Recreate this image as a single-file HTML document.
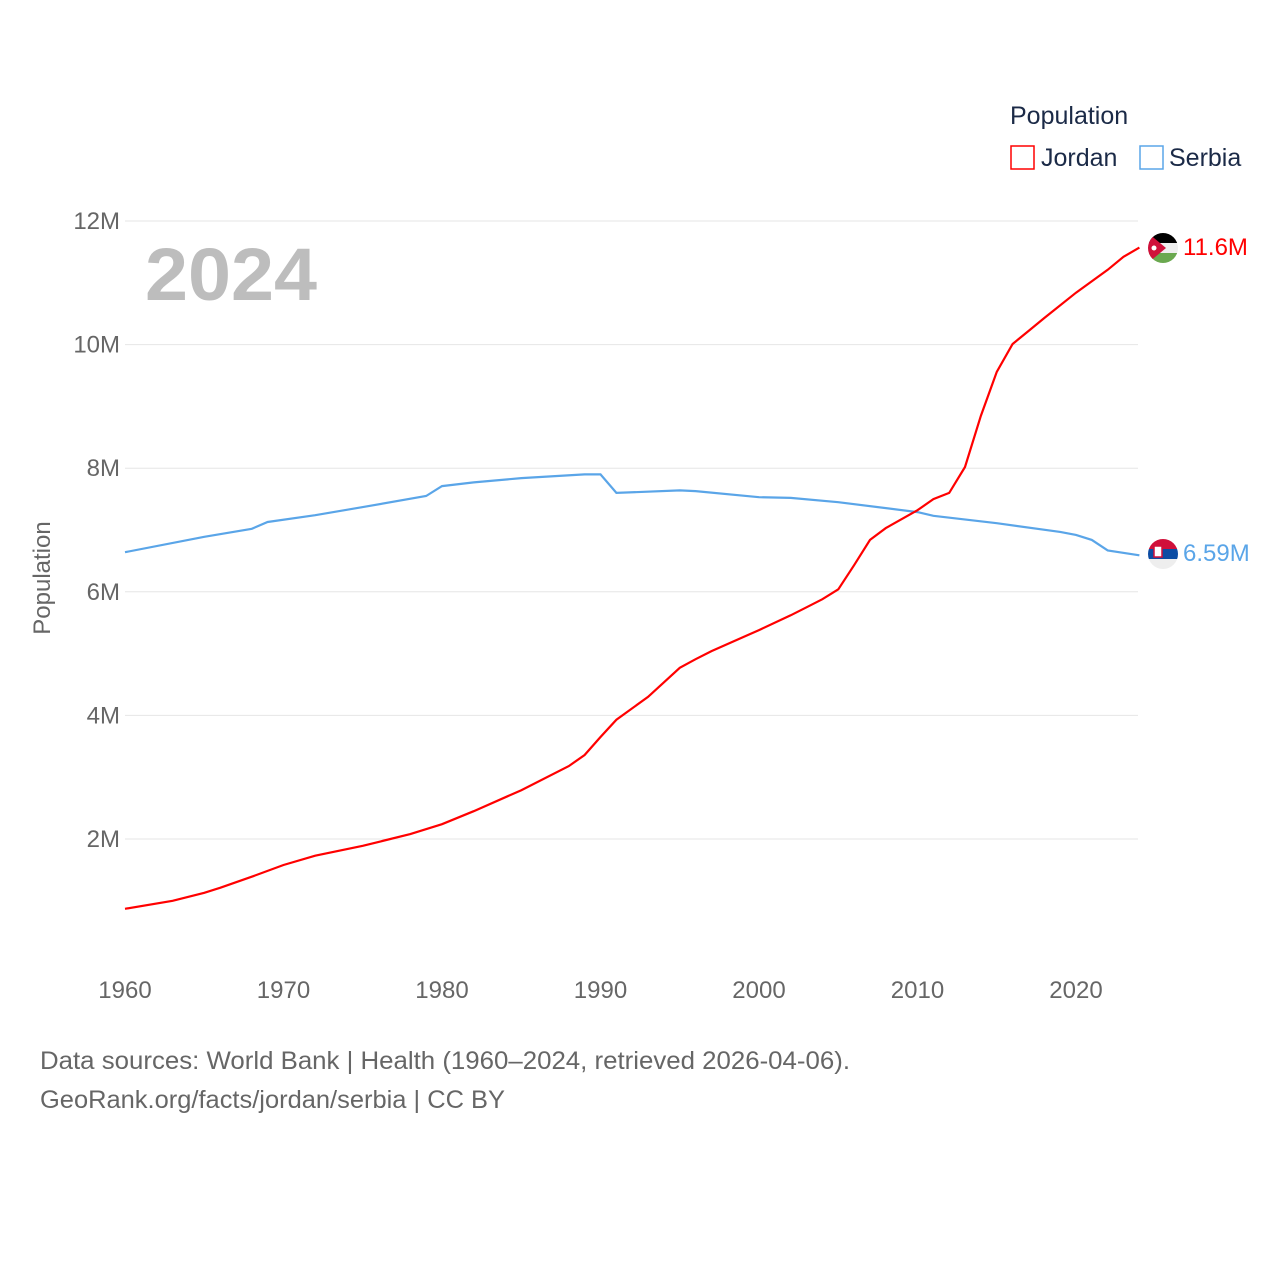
<!DOCTYPE html>
<html><head><meta charset="utf-8"><style>
body{margin:0;background:#fff;width:1280px;height:1280px;overflow:hidden;font-family:"Liberation Sans",sans-serif}
</style></head><body>
<svg id="chart" width="1280" height="1280" xmlns="http://www.w3.org/2000/svg" font-family="Liberation Sans, sans-serif">
<defs>
<clipPath id="cj"><circle cx="1163" cy="248" r="15"/></clipPath>
<clipPath id="cs"><circle cx="1163" cy="554" r="15"/></clipPath>
</defs>
<g id="grid"></g>
<g id="yticks"></g>
<g id="xticks"></g>
<text transform="translate(50,578) rotate(-90)" text-anchor="middle" font-size="24" fill="#666">Population</text>
<text x="145" y="300" font-size="74" font-weight="bold" fill="#bdbdbd" textLength="172" lengthAdjust="spacingAndGlyphs">2024</text>
<g>
<text x="1010" y="124" font-size="25" fill="#1b2a47">Population</text>
<rect x="1011" y="146" width="23" height="23" fill="none" stroke="#ff0000" stroke-width="1.5"/>
<text x="1041" y="166" font-size="25" fill="#1b2a47">Jordan</text>
<rect x="1140" y="146" width="23" height="23" fill="none" stroke="#5aa5e8" stroke-width="1.5"/>
<text x="1169" y="166" font-size="25" fill="#1b2a47">Serbia</text>
</g>
<path id="lineS" fill="none" stroke="#5aa5e8" stroke-width="2.2"/>
<path id="lineJ" fill="none" stroke="#ff0000" stroke-width="2.2"/>
<g clip-path="url(#cj)">
<rect x="1148" y="233" width="30" height="10" fill="#000"/>
<rect x="1148" y="243" width="30" height="10" fill="#eee"/>
<rect x="1148" y="253" width="30" height="10" fill="#6aa84f"/>
<polygon points="1148,233 1166,248 1148,263" fill="#d0103a"/>
<circle cx="1154" cy="248" r="2.5" fill="#fff"/>
</g>
<g clip-path="url(#cs)">
<rect x="1148" y="539" width="30" height="10" fill="#d0103a"/>
<rect x="1148" y="549" width="30" height="10" fill="#0c4ca3"/>
<rect x="1148" y="559" width="30" height="10" fill="#eee"/>
<rect x="1154" y="546" width="8" height="11" fill="#fff" stroke="#d0103a" stroke-width="1.5"/>
</g>
<text x="1183" y="255" font-size="24" fill="#ff0000">11.6M</text>
<text x="1183" y="561" font-size="24" fill="#5aa5e8">6.59M</text>
<text x="40" y="1069" font-size="25" fill="#666" textLength="810" lengthAdjust="spacingAndGlyphs">Data sources: World Bank | Health (1960–2024, retrieved 2026-04-06).</text>
<text x="40" y="1108" font-size="25" fill="#666" textLength="465" lengthAdjust="spacingAndGlyphs">GeoRank.org/facts/jordan/serbia | CC BY</text>
</svg>
<script>
const yTicks=[2,4,6,8,10,12];
const xTicks=[1960,1970,1980,1990,2000,2010,2020];
const jordanYears=[1960,1963,1965,1966,1968,1970,1972,1975,1978,1980,1982,1985,1988,1989,1990,1991,1993,1995,1996,1997,2000,2002,2003,2004,2005,2006,2007,2008,2010,2011,2012,2013,2014,2015,2016,2017,2018,2020,2022,2023,2024];
const jordanValues=[0.87,1.0,1.13,1.21,1.39,1.58,1.73,1.89,2.08,2.24,2.45,2.79,3.18,3.36,3.65,3.93,4.30,4.77,4.91,5.04,5.38,5.62,5.75,5.88,6.04,6.43,6.84,7.03,7.32,7.50,7.60,8.02,8.85,9.56,10.01,10.22,10.43,10.84,11.21,11.42,11.57];
const serbiaYears=[1960,1965,1968,1969,1972,1975,1979,1980,1982,1985,1989,1990,1991,1995,1996,2000,2002,2005,2010,2011,2015,2019,2020,2021,2022,2024];
const serbiaValues=[6.64,6.89,7.02,7.13,7.24,7.37,7.55,7.71,7.77,7.84,7.90,7.90,7.60,7.64,7.63,7.53,7.52,7.45,7.29,7.23,7.11,6.97,6.92,6.84,6.67,6.59];
const X=y=>125+(y-1960)*951/60;
const Y=v=>962.6-v*61.8;
const NS='http://www.w3.org/2000/svg';
const grid=document.getElementById('grid'),yt=document.getElementById('yticks'),xt=document.getElementById('xticks');
yTicks.forEach(v=>{
 const l=document.createElementNS(NS,'line');
 
 
 l.setAttribute('x1',125);l.setAttribute('x2',1138);l.setAttribute('y1',Y(v));l.setAttribute('y2',Y(v));
 l.setAttribute('stroke','#e6e6e6');l.setAttribute('stroke-width','1');grid.appendChild(l);
 const t=document.createElementNS(NS,'text');
 
 
 t.setAttribute('x',120);t.setAttribute('y',Y(v)+8);t.setAttribute('text-anchor','end');
 t.setAttribute('font-size','24');t.setAttribute('fill','#666');t.textContent=v+'M';yt.appendChild(t);
});
xTicks.forEach(v=>{
 const t=document.createElementNS(NS,'text');
 
 
 t.setAttribute('x',X(v));t.setAttribute('y',998);t.setAttribute('text-anchor','middle');
 t.setAttribute('font-size','24');t.setAttribute('fill','#666');t.textContent=v;xt.appendChild(t);
});
function path(ys,vs){return ys.map((y,i)=>(i?'L':'M')+X(y).toFixed(1)+','+Y(vs[i]).toFixed(1)).join('');}
document.getElementById('lineJ').setAttribute('d',path(jordanYears,jordanValues));
document.getElementById('lineS').setAttribute('d',path(serbiaYears,serbiaValues));
</script>
</body></html>
